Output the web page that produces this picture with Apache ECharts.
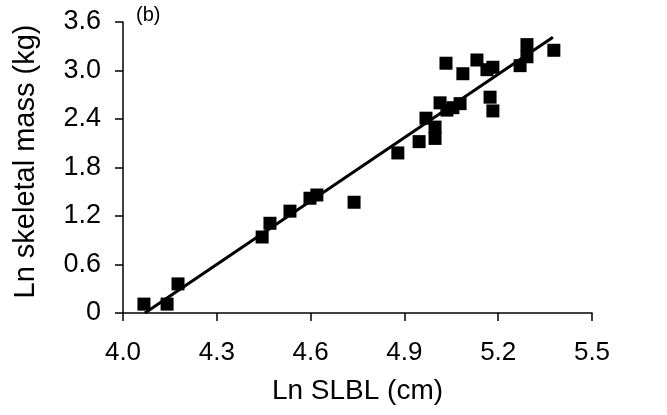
<!DOCTYPE html>
<html>
<head>
<meta charset="utf-8">
<script src="https://cdn.jsdelivr.net/npm/echarts@6/dist/echarts.min.js"></script>
<style>html,body{margin:0;padding:0;background:#fff}#c{width:667px;height:415px}</style>
</head>
<body>
<div id="c"></div>
<script>
// Ln SLBL (cm)
const xValues = [4.067, 4.141, 4.176, 4.445, 4.470, 4.534, 4.598, 4.620, 4.739, 4.879,
                 4.947, 4.969, 4.998, 4.998, 5.014, 5.036, 5.055, 5.078, 5.033, 5.087,
                 5.132, 5.164, 5.183, 5.174, 5.183, 5.270, 5.292, 5.292, 5.378];
// Ln skeletal mass (kg)
const yValues = [0.11, 0.11, 0.36, 0.94, 1.11, 1.26, 1.42, 1.46, 1.37, 1.98,
                 2.12, 2.41, 2.30, 2.16, 2.60, 2.51, 2.54, 2.59, 3.09, 2.96,
                 3.13, 3.01, 3.04, 2.67, 2.50, 3.06, 3.32, 3.17, 3.25];
// regression line end points
const fitX = [4.07, 5.375];
const fitY = [0.0, 3.41];
const xTicks = [4.0, 4.3, 4.6, 4.9, 5.2, 5.5];
const yTicks = [0, 0.6, 1.2, 1.8, 2.4, 3.0, 3.6];
const xTitle = 'Ln SLBL (cm)';
const yTitle = 'Ln skeletal mass (kg)';
const panelLabel = '(b)';

const font = 'Liberation Sans, Arial, sans-serif';
const chart = echarts.init(document.getElementById('c'), null, {renderer: 'canvas'});
const pts = xValues.map((x, i) => [x, yValues[i]]);
const fit = fitX.map((x, i) => [x, fitY[i]]);
chart.setOption({
  animation: false,
  backgroundColor: '#fff',
  grid: {left: 123, right: 75, top: 22, bottom: 102},
  graphic: [{
    type: 'text', left: 136, top: 5,
    style: {text: panelLabel, font: '20px ' + font, fill: '#000'}
  }],
  xAxis: {
    type: 'value', min: xTicks[0], max: xTicks[xTicks.length - 1],
    name: xTitle, nameLocation: 'middle', nameGap: 64,
    nameTextStyle: {fontFamily: font, fontSize: 28, color: '#000'},
    axisLine: {lineStyle: {color: '#000', width: 1.5}},
    axisTick: {show: true, length: 8, inside: false, customValues: xTicks, lineStyle: {color: '#000', width: 1.5}},
    axisLabel: {customValues: xTicks, margin: 27, fontFamily: font, fontSize: 26, color: '#000',
      formatter: v => Number(v).toFixed(1)},
    splitLine: {show: false}
  },
  yAxis: {
    type: 'value', min: yTicks[0], max: yTicks[yTicks.length - 1],
    name: yTitle, nameLocation: 'middle', nameGap: 83,
    nameTextStyle: {fontFamily: font, fontSize: 29, color: '#000', padding: [0, 0, 0, 12]},
    axisLine: {show: true, lineStyle: {color: '#000', width: 1.5}},
    axisTick: {show: true, length: 8, inside: false, customValues: yTicks, lineStyle: {color: '#000', width: 1.5}},
    axisLabel: {customValues: yTicks, margin: 22, fontFamily: font, fontSize: 27, color: '#000',
      formatter: v => (Number(v) === 0 ? '0' : Number(v).toFixed(1))},
    splitLine: {show: false}
  },
  series: [
    {type: 'scatter', data: pts, symbol: 'rect', symbolSize: 13,
     itemStyle: {color: '#000', opacity: 1}, z: 3},
    {type: 'line', data: fit, symbol: 'none', lineStyle: {color: '#000', width: 3}, z: 4}
  ]
});
</script>
</body>
</html>
